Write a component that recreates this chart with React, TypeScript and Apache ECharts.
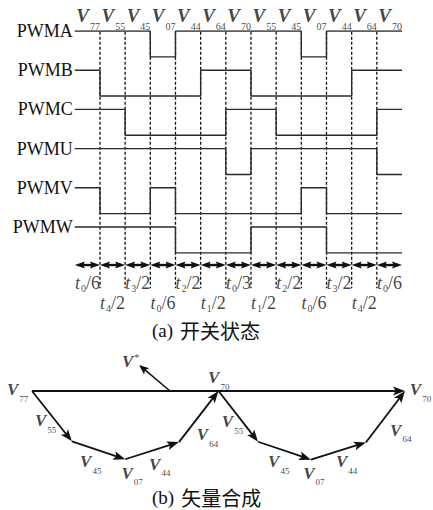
import React, { useEffect, useRef } from 'react';
import * as echarts from 'echarts';

// ---------- (a) switching states ----------
const SIGNAL_NAMES = ['PWMA', 'PWMB', 'PWMC', 'PWMU', 'PWMV', 'PWMW'];
const PWMA = [1, 1, 1, 0, 1, 1, 1, 1, 1, 0, 1, 1, 1];
const PWMB = [1, 0, 0, 0, 0, 1, 1, 0, 0, 0, 0, 1, 1];
const PWMC = [1, 1, 0, 0, 0, 0, 1, 1, 0, 0, 0, 0, 1];
const PWMU = [1, 1, 1, 1, 1, 1, 0, 1, 1, 1, 1, 1, 0];
const PWMV = [1, 0, 0, 1, 0, 0, 0, 0, 0, 1, 0, 0, 0];
const PWMW = [1, 1, 1, 1, 0, 0, 0, 1, 1, 1, 0, 0, 0];
const SIGNAL_LEVELS = [PWMA, PWMB, PWMC, PWMU, PWMV, PWMW];
const STATE_SUBS = ['77', '55', '45', '07', '44', '64', '70', '55', '45', '07', '44', '64', '70'];
const TIME_SUBS = ['0', '4', '3', '0', '2', '1', '0', '1', '2', '0', '3', '4', '0'];
const TIME_DENS = ['6', '2', '2', '6', '2', '2', '3', '2', '2', '6', '2', '2', '6'];

// ---------- (b) vector synthesis ----------
const RESULTANT = [[0, 0], [100, 0]];
const PATH_1 = [[0, 0], [10.7, -13.5], [25, -18.3], [39.4, -13.7], [50, 0]];
const PATH_2 = [[50, 0], [60.6, -13.6], [74.8, -18.4], [89.5, -13.8], [100, 0]];
const REF_VECTOR = [[37, 0], [28.7, 7.0]];
const VEC_LABEL_SUBS = ['77', '55', '45', '07', '44', '64', '70', '55', '45', '07', '44', '64', '70'];
const VEC_LABEL_POS = [
  [-6.7, 0.3], [0.8, -8], [12.9, -19], [24, -22], [31.4, -19.6], [44.2, -11.7], [47.2, 3.5],
  [50.9, -8.3], [63.3, -19], [72.7, -22], [81.5, -19], [96, -10.5], [101.3, 0.3],
];
const REF_LABEL_POS = [24.1, 8.0];

// ---------- layout ----------
const INK = '#111111';
const AMP = 0.66;
const DASH_TOP = 0.02;
const DASH_BOTTOM = 6.56;
const ARROW_Y = 5.97;
const TOP_LABEL_Y = -0.383;
const TIME_ROW_Y = [6.43, 6.94];
const SERIF = "'Liberation Serif', 'Times New Roman', serif";
const CJK = "'Noto Sans CJK SC', sans-serif";

function subRich(M: number, S: number, drop: number, mainExtra: any, subExtra: any) {
  const a = Math.max(0, drop - (M - S) / 2) + 0.5;
  const s = drop + a + (M - S) / 2;
  return {
    main: { fontSize: M, fontFamily: SERIF, color: INK, padding: [a, 0, a, 0], verticalAlign: 'top', ...mainExtra },
    sub: { fontSize: S, fontFamily: SERIF, color: INK, padding: [s, 0, 0, 1], verticalAlign: 'top', ...subExtra },
  };
}

function arrowRender(headLen: number, headW: number, lineW: number, both: boolean, notch = 0.78) {
  return (_params: any, api: any) => {
    const a = api.coord([api.value(0), api.value(1)]);
    const b = api.coord([api.value(2), api.value(3)]);
    const dx = b[0] - a[0];
    const dy = b[1] - a[1];
    const L = Math.hypot(dx, dy) || 1;
    const ux = dx / L, uy = dy / L, nx = -uy, ny = ux;
    const head = (t: number[], sx: number, sy: number) => {
      const bx = t[0] - sx * headLen, by = t[1] - sy * headLen;
      const mx = t[0] - sx * headLen * notch, my = t[1] - sy * headLen * notch;
      return {
        type: 'polygon',
        shape: { points: [[t[0], t[1]], [bx + nx * headW / 2, by + ny * headW / 2], [mx, my], [bx - nx * headW / 2, by - ny * headW / 2]] },
        style: { fill: INK },
      };
    };
    const s = both ? [a[0] + ux * headLen * 0.7, a[1] + uy * headLen * 0.7] : a;
    const e = [b[0] - ux * headLen * 0.7, b[1] - uy * headLen * 0.7];
    const children: any[] = [
      { type: 'line', shape: { x1: s[0], y1: s[1], x2: e[0], y2: e[1] }, style: { stroke: INK, lineWidth: lineW } },
      head(b, ux, uy),
    ];
    if (both) children.push(head(a, -ux, -uy));
    return { type: 'group', children };
  };
}

function segments(path: number[][]) {
  const out: number[][] = [];
  for (let i = 0; i < path.length - 1; i++) out.push([path[i][0], path[i][1], path[i + 1][0], path[i + 1][1]]);
  return out;
}

function buildOption() {
  const n = STATE_SUBS.length;
  const stepSeries = SIGNAL_NAMES.map((name, r) => {
    const lv = SIGNAL_LEVELS[r];
    const pts = lv.map((v, i) => [i, r + (1 - v) * AMP]);
    pts.push([lv.length, r + (1 - lv[lv.length - 1]) * AMP]);
    return {
      type: 'line', name, xAxisIndex: 0, yAxisIndex: 0, step: 'end', data: pts,
      symbol: 'none', silent: true, lineStyle: { color: '#2a2a2a', width: 1.4 },
    };
  });

  const bounds = STATE_SUBS.slice(1).map((_, i) => i + 1);

  const topRich = subRich(19, 10, 11, { fontWeight: 'bold', fontStyle: 'italic' }, {});
  const timeRich = subRich(18, 10, 5, { fontStyle: 'italic' }, {});
  const vecRich = subRich(17, 9, 9, { fontWeight: 'bold', fontStyle: 'italic' }, {});

  const captionRich = {
    a: { fontSize: 19, fontFamily: SERIF, fontWeight: 'normal', color: INK },
    c: { fontSize: 20, fontFamily: CJK, fontWeight: 'normal', color: INK, padding: [0, 0, 0, 7] },
  };

  return {
    animation: false,
    backgroundColor: '#ffffff',
    title: [
      {
        text: '{a|(a)}{c|开关状态}', left: 152, top: 320, padding: 0,
        textStyle: { fontWeight: 'normal', rich: captionRich },
      },
      {
        text: '{a|(b)}{c|矢量合成}', left: 152, top: 487, padding: 0,
        textStyle: { fontWeight: 'normal', rich: captionRich },
      },
    ],
    grid: [
      { left: 74.8, top: 31, width: 327.2, height: 274.4 },
      { left: 32, top: 353.7, width: 373, height: 149.2 },
    ],
    xAxis: [
      { gridIndex: 0, type: 'value', min: 0, max: n, show: false },
      { gridIndex: 1, type: 'value', min: 0, max: 100, show: false },
    ],
    yAxis: [
      {
        gridIndex: 0, type: 'value', min: 0, max: 7, interval: 1, inverse: true,
        axisLine: { show: false }, axisTick: { show: false }, splitLine: { show: false },
        axisLabel: {
          margin: 2, fontSize: 18, fontFamily: SERIF, color: INK,
          formatter: (v: number) => SIGNAL_NAMES[v] ?? '',
        },
      },
      { gridIndex: 1, type: 'value', min: -30, max: 10, show: false },
    ],
    series: [
      ...stepSeries,
      {
        type: 'custom', xAxisIndex: 0, yAxisIndex: 0, silent: true,
        data: bounds.map((k) => [k, DASH_TOP, k, DASH_BOTTOM]),
        renderItem: (_p: any, api: any) => {
          const a = api.coord([api.value(0), api.value(1)]);
          const b = api.coord([api.value(2), api.value(3)]);
          return { type: 'line', shape: { x1: a[0], y1: a[1], x2: b[0], y2: b[1] }, style: { stroke: INK, lineWidth: 1.3, lineDash: [3, 2] } };
        },
      },
      {
        type: 'custom', xAxisIndex: 0, yAxisIndex: 0, silent: true,
        data: STATE_SUBS.map((_, i) => [i, ARROW_Y, i + 1, ARROW_Y]),
        renderItem: arrowRender(10, 7, 2.4, true, 0.85),
      },
      {
        type: 'scatter', xAxisIndex: 0, yAxisIndex: 0, symbolSize: 0, clip: false, silent: true,
        data: STATE_SUBS.map((_, i) => [i + 0.06, TOP_LABEL_Y]),
        label: {
          show: true, position: 'right', distance: 0,
          formatter: (p: any) => `{main|V}{sub|${STATE_SUBS[p.dataIndex]}}`,
          rich: topRich,
        },
      },
      {
        type: 'scatter', xAxisIndex: 0, yAxisIndex: 0, symbolSize: 0, clip: false, silent: true,
        data: TIME_SUBS.map((_, i) => [i + 0.5, TIME_ROW_Y[i % 2]]),
        label: {
          show: true, position: 'inside',
          formatter: (p: any) => `{main|t}{sub|${TIME_SUBS[p.dataIndex]}}{den|/${TIME_DENS[p.dataIndex]}}`,
          rich: { ...timeRich, den: { ...timeRich.main, fontStyle: 'normal' } },
        },
      },
      {
        type: 'custom', xAxisIndex: 1, yAxisIndex: 1, silent: true,
        data: [...segments(PATH_1), ...segments(PATH_2), ...segments(RESULTANT)],
        renderItem: arrowRender(12, 9, 1.8, false),
      },
      {
        type: 'custom', xAxisIndex: 1, yAxisIndex: 1, silent: true,
        data: segments(REF_VECTOR),
        renderItem: arrowRender(10, 8, 1.5, false),
      },
      {
        type: 'scatter', xAxisIndex: 1, yAxisIndex: 1, symbolSize: 0, clip: false, silent: true,
        data: VEC_LABEL_POS.map((p) => [p[0], p[1]]),
        label: {
          show: true, position: 'right', distance: 0,
          formatter: (p: any) => `{main|V}{sub|${VEC_LABEL_SUBS[p.dataIndex]}}`,
          rich: vecRich,
        },
      },
      {
        type: 'scatter', xAxisIndex: 1, yAxisIndex: 1, symbolSize: 0, clip: false, silent: true,
        data: [REF_LABEL_POS],
        label: {
          show: true, position: 'right', distance: 0,
          formatter: () => '{main|V}{sup|*}',
          rich: {
            main: { fontSize: 17, fontFamily: SERIF, fontWeight: 'bold', fontStyle: 'italic', color: INK, verticalAlign: 'top' },
            sup: { fontSize: 10, fontFamily: SERIF, color: INK, verticalAlign: 'top', padding: [0, 0, 0, 1] },
          },
        },
      },
    ],
  };
}

export default function App() {
  const ref = useRef<HTMLDivElement>(null);
  useEffect(() => {
    const chart = echarts.init(ref.current!, undefined, { renderer: 'svg' });
    chart.setOption(buildOption() as any);
    return () => chart.dispose();
  }, []);
  return (
    <div
      ref={ref}
      style={{ position: 'fixed', left: 0, top: 0, width: 433, height: 510, background: '#ffffff' }}
    />
  );
}
